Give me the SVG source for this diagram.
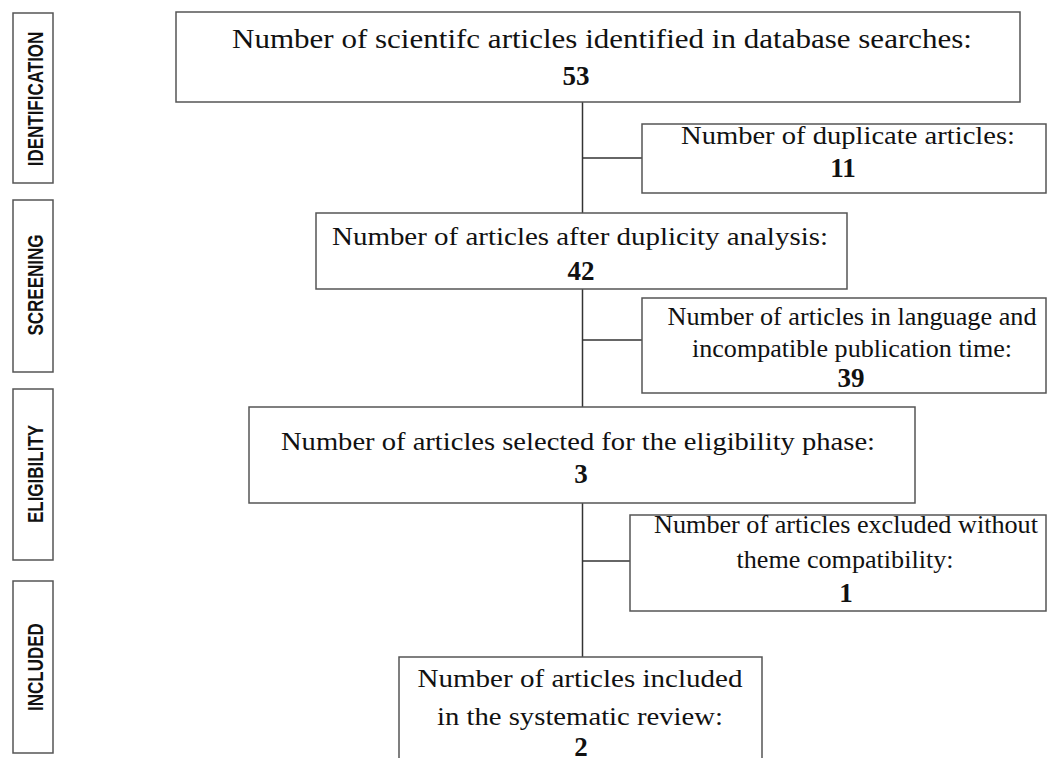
<svg xmlns="http://www.w3.org/2000/svg" width="1051" height="758" viewBox="0 0 1051 758">
<style>
.box{fill:#fff;stroke:#555;stroke-width:1.5}
.side{fill:#fff;stroke:#555;stroke-width:1.5}
.t{font-family:"Liberation Serif","Times New Roman",serif;fill:#111;text-anchor:middle;font-size:26px}
.s{font-size:25px}
.big{font-size:28px}
.b{font-weight:bold;font-size:27px}
.lab{font-family:"Liberation Sans",Arial,sans-serif;font-weight:bold;font-size:17px;fill:#111;text-anchor:middle}
.c{stroke:#333;stroke-width:1.5;fill:none}
</style>
<rect width="1051" height="758" fill="#fff"/>
<g id="phase-identification"><rect class="side" x="13" y="13" width="40" height="170"/><text class="lab" transform="translate(43,99) rotate(-90) scale(1,1.25)">IDENTIFICATION</text></g>
<g id="phase-screening"><rect class="side" x="13" y="200" width="40" height="172"/><text class="lab" transform="translate(43,285) rotate(-90) scale(1,1.25)">SCREENING</text></g>
<g id="phase-eligibility"><rect class="side" x="13" y="389" width="40" height="171"/><text class="lab" transform="translate(43,474) rotate(-90) scale(1,1.25)">ELIGIBILITY</text></g>
<g id="phase-included"><rect class="side" x="13" y="581" width="40" height="172"/><text class="lab" transform="translate(43,667) rotate(-90) scale(1,1.25)">INCLUDED</text></g>
<g id="connectors">
<line class="c" x1="582.5" y1="102" x2="582.5" y2="213"/>
<line class="c" x1="582.5" y1="158" x2="642" y2="158"/>
<line class="c" x1="582.5" y1="289" x2="582.5" y2="407"/>
<line class="c" x1="582.5" y1="340" x2="642" y2="340"/>
<line class="c" x1="582.5" y1="503" x2="582.5" y2="657"/>
<line class="c" x1="582.5" y1="561" x2="630" y2="561"/>
</g>
<g id="n-identified"><rect class="box" x="176" y="12" width="844" height="90"/><text class="t big" x="602" y="48" textLength="740" lengthAdjust="spacingAndGlyphs">Number of scientifc articles identified in database searches:</text><text class="t b" x="576" y="85">53</text></g>
<g id="n-duplicates"><rect class="box" x="642" y="124" width="404" height="69"/><text class="t" x="848" y="144" textLength="334" lengthAdjust="spacingAndGlyphs">Number of duplicate articles:</text><text class="t b" x="843" y="177">11</text></g>
<g id="n-after-dup"><rect class="box" x="316" y="213" width="531" height="76"/><text class="t" x="580" y="245" textLength="496" lengthAdjust="spacingAndGlyphs">Number of articles after duplicity analysis:</text><text class="t b" x="581" y="280">42</text></g>
<g id="n-language"><rect class="box" x="642" y="298" width="404" height="95"/><text class="t s" x="852" y="325" textLength="369" lengthAdjust="spacingAndGlyphs">Number of articles in language and</text><text class="t s" x="852" y="357" textLength="320" lengthAdjust="spacingAndGlyphs">incompatible publication time:</text><text class="t b" x="851" y="387">39</text></g>
<g id="n-eligibility"><rect class="box" x="249" y="407" width="666" height="96"/><text class="t" x="578" y="450" textLength="594" lengthAdjust="spacingAndGlyphs">Number of articles selected for the eligibility phase:</text><text class="t b" x="581" y="483">3</text></g>
<g id="n-excluded"><rect class="box" x="630" y="515" width="416" height="96"/><text class="t s" x="846" y="533" textLength="384" lengthAdjust="spacingAndGlyphs">Number of articles excluded without</text><text class="t s" x="845" y="568" textLength="217" lengthAdjust="spacingAndGlyphs">theme compatibility:</text><text class="t b" x="846" y="602">1</text></g>
<g id="n-included"><rect class="box" x="399" y="657" width="363" height="110"/><text class="t" x="580" y="687" textLength="325" lengthAdjust="spacingAndGlyphs">Number of articles included</text><text class="t" x="580" y="725" textLength="286" lengthAdjust="spacingAndGlyphs">in the systematic review:</text><text class="t b" x="581" y="756">2</text></g>
</svg>
